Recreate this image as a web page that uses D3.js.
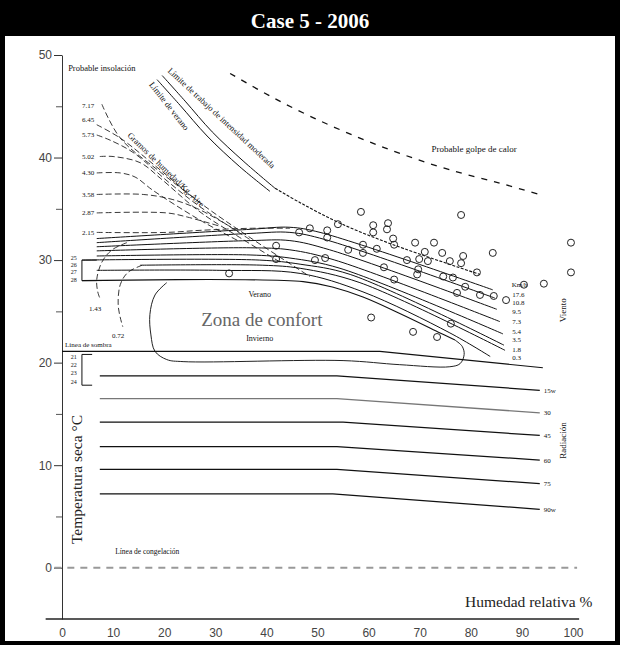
<!DOCTYPE html>
<html>
<head>
<meta charset="utf-8">
<script src="https://cdn.jsdelivr.net/npm/d3@7"></script>
<style>
  body { margin: 0; background: #fff; }
  svg { display: block; }
  .serif { font-family: "Liberation Serif", "Times New Roman", serif; }
  .tick text { font-family: "Liberation Sans", Arial, sans-serif; }
</style>
</head>
<body>
<div id="chart"></div>
<script>
// ---------- data (relative humidity %, dry temperature °C) ----------
const xTicks = [0, 10, 20, 30, 40, 50, 60, 70, 80, 90, 100];
const yTicks = [0, 10, 20, 30, 40, 50];
const yMinorTicks = [5, 15, 25, 35, 45];

// measured points
const pointRH = [32.7, 41.9, 41.9, 46.4, 48.5, 51.9, 51.9, 54.0, 49.5, 51.5, 56.0, 58.5, 60.9, 60.9, 63.8, 63.6, 58.9, 58.9, 61.6, 64.8, 65.0, 63.0, 65.0, 69.1, 72.8, 71.0, 74.4, 67.5, 69.9, 71.6, 69.7, 69.5, 78.1, 78.5, 75.9, 78.1, 84.3, 81.2, 74.6, 76.5, 78.9, 77.3, 81.8, 84.5, 86.9, 90.4, 94.3, 99.6, 99.6, 60.5, 68.7, 73.4, 76.1];
const pointTemp = [28.7, 31.4, 30.1, 32.7, 33.1, 32.9, 32.2, 33.5, 30.0, 30.2, 31.0, 34.7, 33.4, 32.7, 33.6, 33.0, 31.5, 30.7, 31.1, 32.1, 31.5, 29.3, 28.1, 31.7, 31.7, 30.8, 30.7, 30.0, 30.1, 29.9, 29.1, 28.6, 34.4, 30.4, 29.9, 29.7, 30.7, 28.8, 28.4, 28.3, 27.4, 26.8, 26.6, 26.5, 26.1, 27.6, 27.7, 31.7, 28.8, 24.4, 23.0, 22.5, 23.8];

// probable heat stroke limit
const heatStroke = [[32.9, 48.2], [40.7, 46.0], [49.1, 43.9], [58.3, 41.9], [66.7, 40.3], [75.9, 38.8], [85.7, 37.5], [93.5, 36.4]];

// grams of moisture per kg of air
const humidityLabels = ["7.17", "6.45", "5.73", "5.02", "4.30", "3.58", "2.87", "2.15"];
const humidityLabelTemp = [45.1, 43.7, 42.2, 40.1, 38.5, 36.4, 34.6, 32.7];
const humidityLines = [
    [[7.8, 45.2], [11.4, 41.9], [19.2, 38.6], [27.0, 35.6]],
    [[6.8, 43.2], [11.4, 41.9], [19.2, 38.8], [27.0, 35.6], [36.8, 32.2], [48.5, 28.4]],
    [[6.8, 42.2], [9.4, 41.7], [13.9, 40.5], [21.1, 37.5], [27.0, 35.2], [36.8, 32.0]],
    [[7.4, 40.1], [10.0, 40.1], [15.3, 39.5], [19.2, 38.0], [27.0, 34.7], [34.8, 32.2], [42.7, 29.8]],
    [[6.8, 38.5], [11.4, 38.5], [14.3, 38.1], [17.8, 36.8], [27.0, 33.9], [34.8, 31.8]],
    [[6.8, 36.4], [15.9, 36.4], [21.7, 35.9], [27.0, 34.9], [34.8, 32.7]],
    [[6.8, 34.6], [20.5, 34.6], [24.5, 34.2], [30.9, 33.3]],
    [[6.8, 32.7], [20.5, 32.7], [27.0, 32.9], [36.8, 33.1], [44.6, 33.1]]
];
const arcLabels = ["1.43", "0.72"];
const arcLines = [
    [[12.7, 31.7], [9.8, 31.0], [7.8, 29.8], [6.8, 28.1], [7.0, 26.9], [7.4, 26.3]],
    [[15.7, 29.5], [12.9, 28.8], [11.4, 27.6], [11.0, 25.6], [11.5, 24.2], [11.9, 23.5]]
];
const arcLabelPos = [[6.5, 25.0], [11.0, 22.4]];

// work / summer limits
const workLimit = [[19.6, 48.0], [24.1, 45.5], [29.4, 42.5], [35.6, 39.6], [41.7, 37.0]];
const summerLimit = [[18.6, 47.6], [23.1, 45.1], [28.4, 42.1], [34.8, 39.1], [40.7, 36.7]];
const workLimitTail = [[41.7, 37.0], [46.6, 35.6], [54.4, 33.6], [64.8, 31.5], [81.8, 28.6]];

// wind (km/h)
const windLabels = ["17.6", "10.8", "9.5", "7.3", "5.4", "3.5", "1.8", "0.3"];
const windLabelTemp = [26.6, 25.9, 25.0, 24.0, 23.0, 22.3, 21.3, 20.5];
const windLines = [
    [[6.8, 32.1], [36.8, 33.0], [44.6, 33.2], [50.5, 32.7], [84.3, 27.1]],
    [[6.8, 31.7], [36.8, 32.6], [44.6, 32.7], [51.5, 32.0], [84.7, 26.3]],
    [[6.8, 31.3], [36.8, 31.9], [44.6, 31.9], [52.4, 31.0], [85.1, 25.2]],
    [[6.8, 30.9], [36.8, 31.2], [44.6, 31.0], [53.4, 30.0], [85.7, 24.0]],
    [[6.8, 30.4], [36.8, 30.5], [44.6, 30.2], [54.4, 29.2], [86.3, 22.8]],
    [[3.9, 30.0], [38.7, 30.0], [46.6, 29.6], [56.4, 28.6], [86.5, 21.7]],
    [[15.3, 29.5], [39.3, 29.5], [46.6, 29.2], [58.3, 27.8], [86.7, 21.2]],
    [[6.8, 29.0], [30.9, 29.0], [46.6, 28.7], [58.9, 26.9], [75.9, 22.9], [83.8, 20.6]]
];

// comfort zone
const summerLine = [[3.9, 28.0], [47.2, 27.9], [53.4, 27.3], [58.9, 26.4], [66.1, 24.8], [74.0, 22.9], [76.9, 22.2]];
const comfortEdge = [[76.9, 22.2], [78.3, 21.6], [78.7, 20.8], [77.9, 19.9], [75.9, 19.6], [66.1, 19.8], [55.0, 20.2], [23.7, 20.1], [20.5, 20.3], [18.2, 21.1], [17.4, 22.7], [17.2, 24.7], [18.2, 26.6], [20.5, 27.8]];
const shadeLine = [[0, 21.1], [62.2, 21.1], [94.1, 19.5]];

// radiation (w)
const radiationLabels = ["15w", "30", "45", "60", "75", "90w"];
const radiationLines = [
    [[7.4, 18.7], [53.8, 18.7], [93.5, 17.3]],
    [[7.4, 16.5], [53.8, 16.5], [93.5, 15.1]],
    [[7.4, 14.2], [55.0, 14.2], [93.5, 12.9]],
    [[7.4, 11.8], [53.8, 11.8], [93.5, 10.5]],
    [[7.4, 9.6], [53.8, 9.6], [93.5, 8.2]],
    [[7.4, 7.2], [53.0, 7.2], [93.5, 5.7]]
];

const upperBracketLabels = ["25", "26", "27", "28"];
const upperBracketTemp = [30.2, 29.5, 28.8, 28.1];
const lowerBracketLabels = ["21", "22", "23", "24"];
const lowerBracketTemp = [20.6, 19.8, 19.0, 18.1];

// ---------- drawing ----------
const W = 620, H = 645;
const svg = d3.select("#chart").append("svg")
    .attr("width", W)
    .attr("height", H);

// frame + title bar
svg.append("rect").attr("width", W).attr("height", H).attr("fill", "#000");
svg.append("rect").attr("x", 5).attr("y", 36).attr("width", W - 10).attr("height", H - 36 - 4).attr("fill", "#fff");
svg.append("text")
    .attr("class", "serif")
    .attr("x", W / 2).attr("y", 28)
    .attr("text-anchor", "middle")
    .attr("fill", "#fff")
    .attr("font-size", "21px")
    .attr("font-weight", "bold")
    .text("Case 5 - 2006");

const x = d3.scaleLinear().domain([0, 100]).range([62, 573]);
const y = d3.scaleLinear().domain([-5, 50]).range([619, 55]);

const line = d3.line().x(d => x(d[0])).y(d => y(d[1]));
const curve = d3.line().x(d => x(d[0])).y(d => y(d[1])).curve(d3.curveCatmullRom.alpha(0.5));

const g = svg.append("g");

function addText(px, py, str, size, opts) {
    opts = opts || {};
    const t = g.append("text")
        .attr("class", "serif")
        .attr("x", px).attr("y", py)
        .attr("font-size", size + "px")
        .attr("fill", opts.fill || "#111")
        .attr("text-anchor", opts.anchor || "start")
        .text(str);
    if (opts.dy) t.attr("dy", opts.dy);
    if (opts.rotate !== undefined) t.attr("transform", "rotate(" + opts.rotate + "," + px + "," + py + ")");
    return t;
}

// y axis
const yAxis = g.append("g")
    .attr("transform", "translate(" + x(0) + ",0)")
    .call(d3.axisLeft(y).tickValues(yTicks).tickSize(8).tickSizeOuter(0).tickPadding(2));
yAxis.selectAll("text").attr("font-size", "12px").attr("fill", "#444");
yAxis.select(".domain").attr("stroke", "#333");
yAxis.selectAll(".tick line").attr("stroke", "#333");
g.append("g")
    .attr("transform", "translate(" + x(0) + ",0)")
    .call(d3.axisLeft(y).tickValues(yMinorTicks).tickSize(6).tickFormat(""))
    .call(s => s.select(".domain").remove())
    .selectAll(".tick line").attr("stroke", "#555");

// x axis
g.append("line")
    .attr("x1", x(-3.2)).attr("x2", x(101.2))
    .attr("y1", y(-5)).attr("y2", y(-5))
    .attr("stroke", "#222").attr("stroke-width", 1.5);
const xAxis = g.append("g")
    .attr("transform", "translate(0," + y(-5) + ")")
    .call(d3.axisBottom(x).tickValues(xTicks).tickSize(0).tickPadding(9));
xAxis.select(".domain").remove();
xAxis.selectAll("text").attr("font-size", "12px").attr("fill", "#444");

// freezing line
g.append("line")
    .attr("x1", x(-1.5)).attr("x2", x(100.8))
    .attr("y1", y(0)).attr("y2", y(0))
    .attr("stroke", "#999").attr("stroke-width", 2)
    .attr("stroke-dasharray", "7,6");
addText(x(10.4), y(1.3), "Línea de congelación", 7.5);

// heat stroke
g.append("path")
    .attr("d", curve(heatStroke))
    .attr("fill", "none").attr("stroke", "#111").attr("stroke-width", 1.3)
    .attr("stroke-dasharray", "6,7");
addText(x(72.3), y(40.5), "Probable golpe de calor", 9);
addText(x(1.2), y(48.4), "Probable insolación", 8.5);

// humidity lines
g.selectAll(".hum")
    .data(humidityLines)
    .enter().append("path")
    .attr("class", "hum")
    .attr("d", d => curve(d))
    .attr("fill", "none").attr("stroke", "#222").attr("stroke-width", 0.9)
    .attr("stroke-dasharray", "6,3");
humidityLabels.forEach((s, i) => addText(x(3.9), y(humidityLabelTemp[i]), s, 7, { dy: "0.35em" }));

g.selectAll(".arc")
    .data(arcLines)
    .enter().append("path")
    .attr("class", "arc")
    .attr("d", d => curve(d))
    .attr("fill", "none").attr("stroke", "#222").attr("stroke-width", 0.9)
    .attr("stroke-dasharray", "6,3");
arcLabels.forEach((s, i) => addText(x(arcLabelPos[i][0]), y(arcLabelPos[i][1]), s, 7, { anchor: "middle" }));

// limits
[workLimit, summerLimit].forEach(d => {
    g.append("path").attr("d", curve(d))
        .attr("fill", "none").attr("stroke", "#111").attr("stroke-width", 1);
});
g.append("path").attr("d", curve(workLimitTail))
    .attr("fill", "none").attr("stroke", "#111").attr("stroke-width", 1.1)
    .attr("stroke-dasharray", "3,1.5");
addText(x(20.6), y(48.4), "Límite de trabajo de intensidad moderada", 8.6, { rotate: 43 });
addText(x(17.0), y(47.1), "Límite de verano", 8.6, { rotate: 52 });
addText(x(12.7), y(42.1), "Gramos de humedad/Kg. Aire", 8.6, { rotate: 44 });

// wind lines
g.selectAll(".wind")
    .data(windLines)
    .enter().append("path")
    .attr("class", "wind")
    .attr("d", d => curve(d))
    .attr("fill", "none").attr("stroke", "#111").attr("stroke-width", 1);
addText(x(88.0), y(27.6), "Km/h", 7, { dy: "0.35em" });
windLabels.forEach((s, i) => addText(x(88.1), y(windLabelTemp[i]), s, 7, { dy: "0.35em" }));
addText(x(98.6), y(25.1), "Viento", 9, { rotate: -90, anchor: "middle" });

// brackets
function bracket(t1, t2, tickTo) {
    g.append("path")
        .attr("d", line([[tickTo, t1], [3.9, t1], [3.9, t2], [tickTo, t2]]))
        .attr("fill", "none").attr("stroke", "#111").attr("stroke-width", 1);
}
bracket(30.0, 28.0, 6.8);
bracket(20.8, 17.8, 5.9);
upperBracketLabels.forEach((s, i) => addText(x(2.3), y(upperBracketTemp[i]), s, 6, { anchor: "middle", dy: "0.35em" }));
lowerBracketLabels.forEach((s, i) => addText(x(2.3), y(lowerBracketTemp[i]), s, 6, { anchor: "middle", dy: "0.35em" }));

// comfort zone
g.append("path").attr("d", curve(summerLine))
    .attr("fill", "none").attr("stroke", "#111").attr("stroke-width", 1.1);
g.append("path").attr("d", curve(comfortEdge))
    .attr("fill", "none").attr("stroke", "#222").attr("stroke-width", 1);
addText(x(38.7), y(26.4), "Verano", 8, { anchor: "middle" });
addText(x(39.1), y(23.6), "Zona de confort", 19, { anchor: "middle", fill: "#666" });
addText(x(38.7), y(22.1), "Invierno", 8, { anchor: "middle" });

// shade line
g.append("path").attr("d", line(shadeLine))
    .attr("fill", "none").attr("stroke", "#111").attr("stroke-width", 1.2);
addText(x(0.6), y(21.5), "Línea de sombra", 7);

// radiation lines
g.selectAll(".rad")
    .data(radiationLines)
    .enter().append("path")
    .attr("class", "rad")
    .attr("d", d => line(d))
    .attr("fill", "none")
    .attr("stroke", (d, i) => i === 1 ? "#777" : "#111")
    .attr("stroke-width", 1.3);
radiationLabels.forEach((s, i) => {
    const end = radiationLines[i][radiationLines[i].length - 1];
    addText(x(end[0]) + 4, y(end[1]), s, 7, { dy: "0.35em" });
});
addText(x(98.6), y(12.4), "Radiación", 9, { rotate: -90, anchor: "middle" });

// axis titles
addText(x(4.0), y(8.6), "Temperatura seca °C", 15.5, { rotate: -90, anchor: "middle", fill: "#222" });
addText(x(103.8), y(-3.8), "Humedad relativa %", 15.5, { anchor: "end", fill: "#222" });

// points
g.selectAll(".pt")
    .data(pointRH)
    .enter().append("circle")
    .attr("class", "pt")
    .attr("cx", d => x(d))
    .attr("cy", (d, i) => y(pointTemp[i]))
    .attr("r", 3.5)
    .attr("fill", "none")
    .attr("stroke", "#222")
    .attr("stroke-width", 1);
</script>
</body>
</html>
